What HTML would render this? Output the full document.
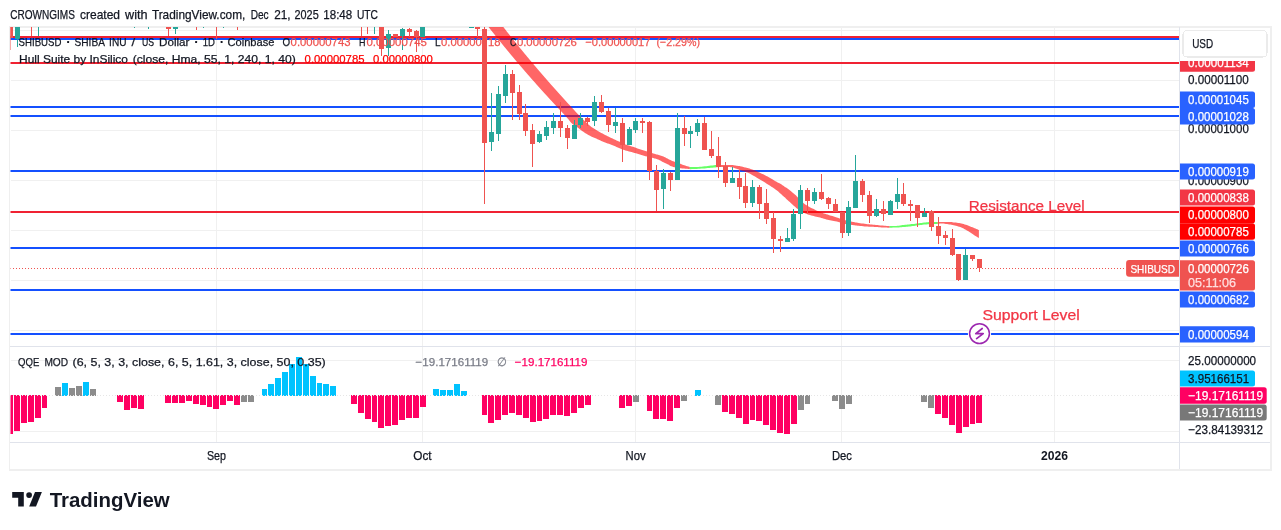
<!DOCTYPE html><html><head><meta charset="utf-8"><style>html,body{margin:0;padding:0;background:#fff;width:1281px;height:530px;overflow:hidden}svg{display:block;will-change:transform;-webkit-font-smoothing:antialiased}text{font-family:"Liberation Sans",sans-serif}</style></head><body><svg width="1281" height="530" viewBox="0 0 1281 530" font-family="Liberation Sans, sans-serif" shape-rendering="crispEdges">
<rect width="1281" height="530" fill="#ffffff"/>
<text x="10.2" y="18.8" font-size="12.4" fill="#131722" text-anchor="start" font-weight="normal" textLength="64.7" lengthAdjust="spacingAndGlyphs" stroke="#131722" stroke-width="0.25">CROWNGIMS</text><text x="80.0" y="18.8" font-size="12.4" fill="#131722" text-anchor="start" font-weight="normal" textLength="40.0" lengthAdjust="spacingAndGlyphs" stroke="#131722" stroke-width="0.25">created</text><text x="125.0" y="18.8" font-size="12.4" fill="#131722" text-anchor="start" font-weight="normal" textLength="22.5" lengthAdjust="spacingAndGlyphs" stroke="#131722" stroke-width="0.25">with</text><text x="151.9" y="18.8" font-size="12.4" fill="#131722" text-anchor="start" font-weight="normal" textLength="93.4" lengthAdjust="spacingAndGlyphs" stroke="#131722" stroke-width="0.25">TradingView.com,</text><text x="250.7" y="18.8" font-size="12.4" fill="#131722" text-anchor="start" font-weight="normal" textLength="18.0" lengthAdjust="spacingAndGlyphs" stroke="#131722" stroke-width="0.25">Dec</text><text x="274.2" y="18.8" font-size="12.4" fill="#131722" text-anchor="start" font-weight="normal" textLength="16.4" lengthAdjust="spacingAndGlyphs" stroke="#131722" stroke-width="0.25">21,</text><text x="294.5" y="18.8" font-size="12.4" fill="#131722" text-anchor="start" font-weight="normal" textLength="24.2" lengthAdjust="spacingAndGlyphs" stroke="#131722" stroke-width="0.25">2025</text><text x="323.3" y="18.8" font-size="12.4" fill="#131722" text-anchor="start" font-weight="normal" textLength="28.9" lengthAdjust="spacingAndGlyphs" stroke="#131722" stroke-width="0.25">18:48</text><text x="356.9" y="18.8" font-size="12.4" fill="#131722" text-anchor="start" font-weight="normal" textLength="21.1" lengthAdjust="spacingAndGlyphs" stroke="#131722" stroke-width="0.25">UTC</text>
<rect x="9" y="26" width="1262" height="1.6" fill="#efefef"/>
<rect x="9" y="26" width="1" height="445" fill="#efefef"/>
<rect x="1270" y="26" width="1.5" height="445" fill="#efefef"/>
<rect x="9" y="469" width="1262.5" height="1.6" fill="#efefef"/>
<defs><clipPath id="pp"><rect x="10.5" y="27" width="1169" height="319"/></clipPath><clipPath id="ip"><rect x="10.5" y="347" width="1169" height="95"/></clipPath></defs>
<g stroke="#f0f0f0" stroke-width="1"><line x1="10.5" y1="30.5" x2="1179" y2="30.5"/><line x1="10.5" y1="80.5" x2="1179" y2="80.5"/><line x1="10.5" y1="130.5" x2="1179" y2="130.5"/><line x1="10.5" y1="180.5" x2="1179" y2="180.5"/><line x1="10.5" y1="230.5" x2="1179" y2="230.5"/><line x1="10.5" y1="280.5" x2="1179" y2="280.5"/><line x1="10.5" y1="330.5" x2="1179" y2="330.5"/><line x1="216.5" y1="27" x2="216.5" y2="442"/><line x1="422.5" y1="27" x2="422.5" y2="442"/><line x1="635.5" y1="27" x2="635.5" y2="442"/><line x1="841.5" y1="27" x2="841.5" y2="442"/><line x1="1054.5" y1="27" x2="1054.5" y2="442"/><line x1="10.5" y1="360.5" x2="1179" y2="360.5"/><line x1="10.5" y1="431.5" x2="1179" y2="431.5"/></g>
<rect x="10" y="346" width="1260" height="1" fill="#e0e3eb"/>
<rect x="10" y="442" width="1260" height="1" fill="#e0e3eb"/>
<rect x="1179" y="27" width="1" height="442" fill="#e0e3eb"/>
<g clip-path="url(#pp)">
<line x1="10" y1="268.5" x2="1125" y2="268.5" stroke="#ef5350" stroke-width="1" stroke-dasharray="1,2"/>
<rect x="10" y="36" width="1169" height="2" fill="#f02232"/>
<rect x="10" y="38" width="1169" height="2" fill="#1450ff"/>
<rect x="10" y="62" width="1169" height="2" fill="#f02232"/>
<rect x="10" y="106" width="1169" height="2" fill="#1450ff"/>
<rect x="10" y="115" width="1169" height="2" fill="#1450ff"/>
<rect x="10" y="170" width="1169" height="2" fill="#1450ff"/>
<rect x="10" y="211" width="1169" height="2" fill="#f02232"/>
<rect x="10" y="247" width="1169" height="2" fill="#1450ff"/>
<rect x="10" y="289" width="1169" height="2" fill="#1450ff"/>
<rect x="10" y="333" width="1169" height="2" fill="#1450ff"/>
<g shape-rendering="auto" fill-opacity="0.6">
<polygon points="493.4,14.0 493.9,14.7 494.6,15.6 495.4,16.6 496.2,17.8 497.1,18.9 497.9,20.0 498.7,21.0 499.5,22.0 500.2,23.0 501.0,24.0 501.8,25.0 502.5,26.0 503.3,27.0 504.1,28.0 504.9,29.0 505.7,30.0 506.4,31.0 507.2,32.0 508.0,33.0 508.8,34.0 509.6,35.0 510.4,36.0 511.2,37.0 512.0,38.0 512.8,39.0 513.6,40.0 514.4,41.0 515.2,42.0 516.0,43.0 516.8,44.0 517.6,45.0 518.4,46.0 519.2,47.0 520.0,48.0 520.8,49.0 521.7,50.0 522.5,51.0 523.3,52.0 524.1,53.0 524.9,54.0 525.8,55.0 526.6,56.0 527.4,57.0 528.3,58.0 529.1,59.0 529.9,60.0 530.8,61.0 531.6,62.0 532.4,63.0 533.3,64.0 534.1,65.0 535.0,66.0 535.8,67.0 536.7,68.0 537.5,69.0 538.4,70.0 539.2,71.0 540.1,72.0 541.0,73.0 541.8,74.0 542.7,75.0 543.6,76.0 544.4,77.0 545.3,78.0 546.2,79.0 547.0,80.0 547.9,81.0 548.8,82.0 549.7,83.0 550.5,84.0 551.4,85.0 552.3,86.0 553.2,87.0 554.1,88.0 555.0,89.0 555.9,90.0 556.8,91.0 557.7,92.0 558.6,93.0 559.5,94.0 560.4,95.0 561.3,96.0 562.2,97.0 563.1,98.0 564.0,99.0 564.9,100.0 565.8,101.0 566.7,102.0 567.6,103.0 568.5,104.0 569.5,105.0 570.4,106.0 571.3,107.0 572.2,108.0 573.2,109.0 574.1,110.0 575.0,111.0 575.8,111.9 576.6,112.8 577.5,113.7 578.5,114.8 579.7,116.0 581.2,117.5 582.9,119.2 584.7,121.0 586.6,122.8 588.4,124.4 590.0,125.8 591.4,126.9 592.7,127.8 593.9,128.6 595.1,129.3 596.3,130.0 597.5,130.7 598.8,131.4 600.0,132.2 601.3,132.9 602.6,133.6 603.8,134.2 605.1,134.9 606.4,135.5 607.6,136.2 608.9,136.8 610.1,137.4 611.3,138.0 612.6,138.6 613.9,139.2 615.2,139.8 616.5,140.4 617.8,140.9 619.0,141.5 620.2,142.0 621.3,142.5 622.3,143.0 623.3,143.5 624.3,143.9 625.4,144.4 626.5,144.8 627.7,145.2 629.0,145.6 630.2,146.0 631.6,146.4 633.0,146.8 634.4,147.3 635.9,147.8 637.5,148.4 639.1,148.9 640.7,149.5 642.3,150.1 643.9,150.6 645.5,151.1 647.2,151.6 648.9,152.1 650.5,152.6 652.0,153.0 653.3,153.4 654.4,153.7 655.2,154.0 655.9,154.2 656.6,154.4 657.3,154.6 658.0,154.8 658.8,155.0 659.6,155.2 660.3,155.4 661.1,155.7 661.9,155.9 662.7,156.2 663.5,156.5 664.3,156.9 665.1,157.3 665.9,157.8 666.7,158.2 667.5,158.6 668.3,159.0 669.0,159.4 669.7,159.7 670.5,160.1 671.3,160.5 672.2,160.9 673.3,161.3 674.5,161.7 675.8,162.2 677.1,162.6 678.3,163.0 679.4,163.4 680.3,163.8 681.1,164.1 681.9,164.4 682.6,164.7 683.4,165.0 684.2,165.3 685.2,165.6 686.2,165.9 687.3,166.2 688.3,166.5 689.2,166.7 689.8,166.9 689.8,169.0 689.2,169.0 688.3,168.9 687.3,168.8 686.2,168.8 685.2,168.7 684.2,168.6 683.4,168.5 682.6,168.5 681.9,168.4 681.1,168.3 680.3,168.2 679.4,168.1 678.3,167.9 677.1,167.7 675.8,167.5 674.5,167.2 673.3,166.9 672.2,166.6 671.3,166.3 670.5,165.9 669.7,165.4 669.0,165.0 668.3,164.6 667.5,164.2 666.7,163.8 665.9,163.4 665.1,163.1 664.3,162.7 663.5,162.3 662.7,161.9 661.9,161.5 661.1,161.1 660.3,160.6 659.6,160.2 658.8,159.8 658.0,159.5 657.3,159.2 656.6,159.0 655.9,158.8 655.2,158.6 654.4,158.4 653.3,158.1 652.0,157.8 650.5,157.4 648.9,157.0 647.2,156.6 645.5,156.2 643.9,155.8 642.3,155.3 640.7,154.8 639.1,154.3 637.5,153.8 635.9,153.3 634.4,152.9 633.0,152.5 631.6,152.1 630.2,151.8 629.0,151.5 627.7,151.1 626.5,150.8 625.4,150.5 624.3,150.1 623.3,149.8 622.3,149.4 621.3,149.0 620.2,148.6 619.0,148.1 617.8,147.5 616.5,146.9 615.2,146.3 613.9,145.7 612.6,145.2 611.3,144.7 610.1,144.3 608.9,143.8 607.6,143.4 606.4,143.0 605.1,142.5 603.8,142.0 602.6,141.4 601.3,140.9 600.0,140.3 598.8,139.8 597.5,139.2 596.2,138.6 594.9,138.1 593.6,137.5 592.4,136.9 591.2,136.4 590.0,135.8 588.9,135.2 587.9,134.7 586.9,134.1 585.9,133.5 585.0,132.9 584.0,132.3 583.0,131.6 582.1,130.9 581.2,130.2 580.2,129.5 579.3,128.7 578.3,128.0 577.3,127.3 576.2,126.6 575.2,126.0 574.1,125.2 573.1,124.4 572.0,123.5 570.9,122.4 569.9,121.2 568.8,119.8 567.7,118.5 566.6,117.2 565.6,116.0 564.6,114.9 563.7,113.9 562.7,112.9 561.8,111.9 560.9,111.0 559.9,110.0 559.0,109.0 558.1,108.0 557.1,107.0 556.2,106.0 555.3,105.0 554.3,104.0 553.4,103.0 552.5,102.0 551.6,101.0 550.6,100.0 549.7,99.0 548.8,98.0 547.9,97.0 547.0,96.0 546.1,95.0 545.1,94.0 544.2,93.0 543.3,92.0 542.4,91.0 541.5,90.0 540.6,89.0 539.7,88.0 538.8,87.0 537.9,86.0 537.0,85.0 536.1,84.0 535.3,83.0 534.4,82.0 533.5,81.0 532.6,80.0 531.7,79.0 530.8,78.0 530.0,77.0 529.1,76.0 528.2,75.0 527.3,74.0 526.5,73.0 525.6,72.0 524.7,71.0 523.9,70.0 523.0,69.0 522.2,68.0 521.3,67.0 520.4,66.0 519.6,65.0 518.7,64.0 517.9,63.0 517.0,62.0 516.2,61.0 515.3,60.0 514.5,59.0 513.7,58.0 512.8,57.0 512.0,56.0 511.1,55.0 510.3,54.0 509.5,53.0 508.7,52.0 507.8,51.0 507.0,50.0 506.2,49.0 505.4,48.0 504.5,47.0 503.7,46.0 502.9,45.0 502.1,44.0 501.3,43.0 500.5,42.0 499.7,41.0 498.9,40.0 498.0,39.0 497.2,38.0 496.4,37.0 495.6,36.0 494.9,35.0 494.1,34.0 493.3,33.0 492.5,32.0 491.7,31.0 490.9,30.0 490.1,29.0 489.3,28.0 488.6,27.0 487.8,26.0 487.0,25.0 486.2,24.0 485.4,23.0 484.7,22.0 483.9,21.0 483.1,20.0 482.3,18.9 481.4,17.8 480.6,16.6 479.8,15.6 479.1,14.7 478.6,14.0" fill="#ff0000"/>
<polygon points="689.8,167.1 690.7,167.1 692.0,167.1 693.5,167.1 695.1,167.0 696.7,167.0 698.3,166.9 699.8,166.8 701.4,166.7 703.0,166.5 704.6,166.3 706.2,166.2 707.7,166.0 709.3,165.8 710.9,165.6 712.5,165.4 714.0,165.2 715.3,165.0 716.2,164.9 716.2,167.3 715.3,167.4 714.0,167.5 712.5,167.7 710.9,167.8 709.3,168.0 707.7,168.1 706.2,168.2 704.6,168.4 703.0,168.5 701.4,168.6 699.8,168.7 698.3,168.8 696.7,168.9 695.1,169.0 693.5,169.0 692.0,169.1 690.7,169.2 689.8,169.2" fill="#00ff00"/>
<polygon points="716.2,164.9 716.7,164.9 717.4,164.9 718.2,165.0 719.2,165.0 720.2,165.0 721.4,165.0 722.8,165.0 724.4,165.0 726.2,164.9 727.9,164.9 729.5,164.9 730.9,164.9 732.0,165.0 732.8,165.1 733.6,165.2 734.2,165.3 734.9,165.5 735.6,165.6 736.4,165.7 737.2,165.8 738.0,165.9 738.7,166.0 739.5,166.1 740.3,166.2 741.1,166.4 741.9,166.6 742.6,166.8 743.4,167.0 744.2,167.2 745.0,167.4 745.8,167.6 746.5,167.8 747.3,168.0 748.1,168.1 748.9,168.4 749.7,168.6 750.5,168.9 751.3,169.2 752.2,169.5 753.0,169.8 754.0,170.2 755.0,170.6 756.1,171.1 757.3,171.6 758.6,172.2 759.9,172.8 761.2,173.4 762.5,174.0 763.8,174.6 765.0,175.3 766.3,175.9 767.6,176.6 768.8,177.3 770.1,178.0 771.4,178.7 772.8,179.6 774.2,180.4 775.5,181.2 776.6,181.8 777.6,182.4 778.3,182.8 778.7,183.0 779.0,183.1 779.2,183.2 779.5,183.3 780.0,183.6 780.7,184.0 781.6,184.6 782.5,185.2 783.4,185.8 784.3,186.4 785.0,186.9 785.5,187.2 785.8,187.4 786.1,187.5 786.4,187.7 786.8,188.0 787.5,188.5 788.5,189.3 789.8,190.3 791.3,191.5 792.7,192.7 794.0,193.8 795.1,194.7 795.8,195.3 796.3,195.8 796.6,196.2 797.0,196.6 797.4,197.0 798.1,197.7 799.0,198.6 800.1,199.7 801.2,200.9 802.4,202.1 803.7,203.2 804.9,204.2 806.1,205.1 807.4,205.8 808.6,206.5 809.9,207.2 811.2,207.9 812.5,208.5 813.8,209.1 815.0,209.8 816.3,210.4 817.6,210.9 818.8,211.5 820.1,212.0 821.4,212.5 822.6,212.9 823.9,213.4 825.1,213.8 826.3,214.2 827.6,214.6 828.8,215.0 830.0,215.4 831.2,215.8 832.5,216.1 833.8,216.6 835.2,217.0 836.8,217.5 838.5,218.1 840.2,218.7 842.0,219.3 843.7,219.8 845.2,220.3 846.5,220.6 847.7,220.9 848.9,221.1 849.9,221.3 851.0,221.5 852.0,221.7 853.0,221.9 853.8,222.1 854.7,222.3 855.6,222.4 856.5,222.6 857.6,222.8 858.8,223.0 860.2,223.2 861.7,223.4 863.2,223.6 864.6,223.8 866.1,224.0 867.5,224.2 868.9,224.3 870.4,224.4 871.8,224.5 873.2,224.7 874.6,224.8 876.0,224.9 877.4,225.1 878.8,225.2 880.2,225.4 881.5,225.5 882.8,225.6 884.1,225.7 885.4,225.8 886.7,225.9 887.9,226.0 888.9,226.0 889.6,226.1 889.6,227.7 888.9,227.7 887.9,227.7 886.7,227.6 885.4,227.6 884.1,227.6 882.8,227.5 881.5,227.4 880.2,227.3 878.8,227.2 877.4,227.1 876.0,227.0 874.6,226.9 873.2,226.8 871.8,226.8 870.4,226.7 868.9,226.7 867.5,226.6 866.1,226.5 864.6,226.4 863.2,226.3 861.7,226.1 860.2,226.0 858.8,225.8 857.6,225.7 856.5,225.6 855.6,225.4 854.7,225.3 853.8,225.2 853.0,225.0 852.0,224.9 851.0,224.8 849.9,224.7 848.9,224.6 847.7,224.4 846.5,224.3 845.2,224.0 843.7,223.6 842.0,223.2 840.2,222.6 838.5,222.1 836.8,221.6 835.2,221.2 833.8,220.9 832.5,220.7 831.2,220.5 830.0,220.3 828.8,220.1 827.6,219.8 826.3,219.5 825.1,219.1 823.9,218.7 822.6,218.3 821.4,218.0 820.1,217.6 818.8,217.3 817.6,217.0 816.3,216.7 815.0,216.4 813.8,216.1 812.5,215.8 811.2,215.4 809.9,215.1 808.6,214.7 807.4,214.3 806.1,213.8 804.9,213.3 803.7,212.7 802.4,212.0 801.2,211.2 800.1,210.5 799.0,209.8 798.1,209.2 797.4,208.8 797.0,208.4 796.6,208.2 796.3,207.9 795.8,207.4 795.1,206.8 794.0,205.9 792.7,204.7 791.3,203.4 789.8,202.1 788.5,200.9 787.5,200.0 786.8,199.4 786.4,198.9 786.1,198.7 785.8,198.4 785.5,198.1 785.0,197.6 784.3,197.0 783.4,196.2 782.5,195.4 781.6,194.6 780.7,193.8 780.0,193.2 779.5,192.7 779.2,192.4 779.0,192.2 778.7,191.9 778.3,191.5 777.6,191.0 776.6,190.3 775.5,189.5 774.2,188.6 772.8,187.6 771.4,186.7 770.1,185.8 768.8,185.0 767.6,184.2 766.3,183.4 765.0,182.6 763.8,181.8 762.5,181.0 761.2,180.2 759.9,179.5 758.6,178.7 757.3,177.9 756.1,177.2 755.0,176.6 754.0,176.0 753.0,175.5 752.2,175.0 751.3,174.5 750.5,174.0 749.7,173.6 748.9,173.2 748.1,172.8 747.3,172.5 746.5,172.2 745.8,171.9 745.0,171.6 744.2,171.3 743.4,171.1 742.6,170.9 741.9,170.7 741.1,170.4 740.3,170.2 739.5,169.9 738.7,169.6 738.0,169.3 737.2,169.0 736.4,168.7 735.6,168.4 734.9,168.2 734.2,167.9 733.6,167.7 732.8,167.5 732.0,167.3 730.9,167.2 729.5,167.1 727.9,167.0 726.2,167.0 724.4,167.0 722.8,167.0 721.4,167.0 720.2,167.0 719.2,167.1 718.2,167.1 717.4,167.2 716.7,167.3 716.2,167.3" fill="#ff0000"/>
<polygon points="889.6,226.1 890.5,226.1 891.7,226.0 893.1,226.0 894.7,226.0 896.2,225.9 897.6,225.8 898.9,225.7 900.1,225.5 901.4,225.3 902.6,225.1 903.9,225.0 905.1,224.8 906.4,224.7 907.6,224.5 908.9,224.4 910.2,224.3 911.4,224.1 912.7,224.0 914.0,223.9 915.2,223.7 916.5,223.6 917.7,223.4 918.9,223.3 920.2,223.1 921.5,222.9 922.7,222.8 924.0,222.6 925.3,222.4 926.5,222.3 927.8,222.2 929.1,222.1 930.5,222.1 931.9,222.0 933.2,222.0 934.4,222.0 935.3,222.0 936.0,222.0 936.5,222.0 936.9,222.0 937.2,222.0 937.4,222.0 937.6,222.0 937.6,223.9 937.4,223.9 937.2,223.9 936.9,223.9 936.5,223.9 936.0,223.9 935.3,223.9 934.4,223.9 933.2,224.0 931.9,224.1 930.5,224.1 929.1,224.2 927.8,224.3 926.5,224.4 925.3,224.5 924.0,224.6 922.7,224.7 921.5,224.9 920.2,225.0 918.9,225.2 917.7,225.3 916.5,225.5 915.2,225.7 914.0,225.9 912.7,226.1 911.4,226.3 910.2,226.4 908.9,226.5 907.6,226.7 906.4,226.8 905.1,226.9 903.9,227.0 902.6,227.1 901.4,227.2 900.1,227.3 898.9,227.4 897.6,227.5 896.2,227.6 894.7,227.6 893.1,227.6 891.7,227.7 890.5,227.7 889.6,227.7" fill="#00ff00"/>
<polygon points="937.6,222.0 938.0,222.0 938.5,222.0 939.2,221.9 939.9,221.9 940.7,221.9 941.6,221.9 942.5,221.9 943.6,221.9 944.7,221.9 945.9,221.9 947.1,221.9 948.2,221.9 949.3,222.0 950.4,222.0 951.5,222.1 952.6,222.2 953.7,222.4 954.8,222.5 955.9,222.6 957.0,222.8 958.1,222.9 959.2,223.1 960.3,223.3 961.4,223.5 962.5,223.8 963.6,224.1 964.7,224.4 965.8,224.7 966.9,225.1 968.0,225.5 969.1,225.9 970.3,226.4 971.4,226.9 972.6,227.3 973.6,227.8 974.6,228.2 975.5,228.6 976.4,229.0 977.2,229.3 977.9,229.6 978.5,229.9 978.9,230.1 978.9,238.1 978.5,237.8 977.9,237.5 977.2,237.0 976.4,236.5 975.5,236.0 974.6,235.4 973.6,234.8 972.6,234.1 971.4,233.3 970.3,232.5 969.1,231.8 968.0,231.1 966.9,230.4 965.8,229.8 964.7,229.2 963.6,228.6 962.5,228.0 961.4,227.5 960.3,227.1 959.2,226.7 958.1,226.4 957.0,226.1 955.9,225.8 954.8,225.5 953.7,225.2 952.6,225.0 951.5,224.8 950.4,224.6 949.3,224.4 948.2,224.2 947.1,224.0 945.9,223.9 944.7,223.7 943.6,223.6 942.5,223.5 941.6,223.5 940.7,223.5 939.9,223.6 939.2,223.7 938.5,223.8 938.0,223.8 937.6,223.9" fill="#ff0000"/>
</g>
<rect x="10" y="20.0" width="1" height="29.6" fill="#ef5350"/>
<rect x="8" y="20.0" width="5" height="18.4" fill="#ef5350"/>
<rect x="17" y="20.0" width="1" height="26.5" fill="#26a69a"/>
<rect x="15" y="20.0" width="5" height="19.3" fill="#26a69a"/>
<rect x="31" y="20.0" width="1" height="16.0" fill="#ef5350"/>
<rect x="29" y="20.0" width="5" height="2.0" fill="#ef5350"/>
<rect x="38" y="20.0" width="1" height="15.6" fill="#26a69a"/>
<rect x="36" y="20.0" width="5" height="2.0" fill="#26a69a"/>
<rect x="134" y="20.0" width="1" height="7.9" fill="#26a69a"/>
<rect x="132" y="20.0" width="5" height="2.0" fill="#26a69a"/>
<rect x="148" y="20.0" width="1" height="8.5" fill="#26a69a"/>
<rect x="146" y="20.0" width="5" height="2.0" fill="#26a69a"/>
<rect x="168" y="20.0" width="1" height="16.2" fill="#ef5350"/>
<rect x="166" y="20.0" width="5" height="8.5" fill="#ef5350"/>
<rect x="175" y="20.0" width="1" height="13.8" fill="#26a69a"/>
<rect x="173" y="20.0" width="5" height="8.5" fill="#26a69a"/>
<rect x="196" y="20.0" width="1" height="9.8" fill="#ef5350"/>
<rect x="194" y="20.0" width="5" height="2.0" fill="#ef5350"/>
<rect x="203" y="20.0" width="1" height="7.9" fill="#26a69a"/>
<rect x="201" y="20.0" width="5" height="2.0" fill="#26a69a"/>
<rect x="216" y="20.0" width="1" height="18.5" fill="#ef5350"/>
<rect x="214" y="20.0" width="5" height="2.0" fill="#ef5350"/>
<rect x="223" y="20.0" width="1" height="7.9" fill="#26a69a"/>
<rect x="221" y="20.0" width="5" height="2.0" fill="#26a69a"/>
<rect x="237" y="20.0" width="1" height="9.5" fill="#ef5350"/>
<rect x="235" y="20.0" width="5" height="2.0" fill="#ef5350"/>
<rect x="361" y="20.0" width="1" height="16.2" fill="#ef5350"/>
<rect x="359" y="20.0" width="5" height="2.0" fill="#ef5350"/>
<rect x="367" y="20.0" width="1" height="14.3" fill="#ef5350"/>
<rect x="365" y="20.0" width="5" height="2.0" fill="#ef5350"/>
<rect x="374" y="20.0" width="1" height="14.3" fill="#26a69a"/>
<rect x="372" y="20.0" width="5" height="2.0" fill="#26a69a"/>
<rect x="381" y="20.0" width="1" height="36.0" fill="#ef5350"/>
<rect x="379" y="20.0" width="5" height="28.8" fill="#ef5350"/>
<rect x="388" y="30.0" width="1" height="26.0" fill="#26a69a"/>
<rect x="386" y="33.8" width="5" height="14.1" fill="#26a69a"/>
<rect x="395" y="33.8" width="1" height="3.3" fill="#ef5350"/>
<rect x="393" y="33.8" width="5" height="3.3" fill="#ef5350"/>
<rect x="402" y="27.6" width="1" height="22.2" fill="#26a69a"/>
<rect x="400" y="28.9" width="5" height="7.3" fill="#26a69a"/>
<rect x="409" y="27.6" width="1" height="9.5" fill="#ef5350"/>
<rect x="407" y="29.2" width="5" height="2.8" fill="#ef5350"/>
<rect x="416" y="30.1" width="1" height="21.8" fill="#ef5350"/>
<rect x="414" y="31.0" width="5" height="6.1" fill="#ef5350"/>
<rect x="422" y="20.0" width="1" height="17.1" fill="#26a69a"/>
<rect x="420" y="20.0" width="5" height="17.1" fill="#26a69a"/>
<rect x="471" y="20.0" width="1" height="8.0" fill="#26a69a"/>
<rect x="469" y="20.0" width="5" height="8.0" fill="#26a69a"/>
<rect x="477" y="20.0" width="1" height="16.8" fill="#ef5350"/>
<rect x="475" y="27.2" width="5" height="1.7" fill="#ef5350"/>
<rect x="484" y="20.0" width="1" height="184.2" fill="#ef5350"/>
<rect x="482" y="29.2" width="5" height="113.5" fill="#ef5350"/>
<rect x="491" y="92.7" width="1" height="58.5" fill="#26a69a"/>
<rect x="489" y="132.0" width="5" height="9.8" fill="#26a69a"/>
<rect x="498" y="85.8" width="1" height="55.0" fill="#26a69a"/>
<rect x="496" y="94.0" width="5" height="39.7" fill="#26a69a"/>
<rect x="505" y="64.8" width="1" height="37.7" fill="#26a69a"/>
<rect x="503" y="73.9" width="5" height="21.7" fill="#26a69a"/>
<rect x="512" y="69.7" width="1" height="50.0" fill="#ef5350"/>
<rect x="510" y="73.9" width="5" height="18.8" fill="#ef5350"/>
<rect x="519" y="84.8" width="1" height="34.9" fill="#ef5350"/>
<rect x="517" y="92.2" width="5" height="21.7" fill="#ef5350"/>
<rect x="525" y="104.0" width="1" height="31.8" fill="#ef5350"/>
<rect x="523" y="113.0" width="5" height="17.8" fill="#ef5350"/>
<rect x="532" y="124.2" width="1" height="42.8" fill="#ef5350"/>
<rect x="530" y="130.0" width="5" height="13.7" fill="#ef5350"/>
<rect x="539" y="131.0" width="1" height="12.0" fill="#26a69a"/>
<rect x="537" y="134.2" width="5" height="8.2" fill="#26a69a"/>
<rect x="546" y="121.0" width="1" height="19.0" fill="#26a69a"/>
<rect x="544" y="126.9" width="5" height="8.7" fill="#26a69a"/>
<rect x="553" y="113.0" width="1" height="20.7" fill="#26a69a"/>
<rect x="551" y="121.0" width="5" height="6.6" fill="#26a69a"/>
<rect x="560" y="102.2" width="1" height="34.3" fill="#ef5350"/>
<rect x="558" y="121.0" width="5" height="6.6" fill="#ef5350"/>
<rect x="567" y="125.0" width="1" height="24.3" fill="#ef5350"/>
<rect x="565" y="128.2" width="5" height="9.3" fill="#ef5350"/>
<rect x="574" y="120.0" width="1" height="18.8" fill="#26a69a"/>
<rect x="572" y="125.0" width="5" height="13.6" fill="#26a69a"/>
<rect x="580" y="113.3" width="1" height="14.2" fill="#26a69a"/>
<rect x="578" y="118.0" width="5" height="7.0" fill="#26a69a"/>
<rect x="587" y="116.9" width="1" height="8.7" fill="#ef5350"/>
<rect x="585" y="118.4" width="5" height="3.4" fill="#ef5350"/>
<rect x="594" y="95.8" width="1" height="30.2" fill="#26a69a"/>
<rect x="592" y="102.0" width="5" height="18.7" fill="#26a69a"/>
<rect x="601" y="94.8" width="1" height="17.9" fill="#ef5350"/>
<rect x="599" y="102.0" width="5" height="10.0" fill="#ef5350"/>
<rect x="608" y="108.0" width="1" height="23.6" fill="#ef5350"/>
<rect x="606" y="110.8" width="5" height="14.2" fill="#ef5350"/>
<rect x="615" y="107.5" width="1" height="25.0" fill="#26a69a"/>
<rect x="613" y="122.0" width="5" height="4.0" fill="#26a69a"/>
<rect x="622" y="118.0" width="1" height="43.8" fill="#ef5350"/>
<rect x="620" y="122.7" width="5" height="22.1" fill="#ef5350"/>
<rect x="629" y="127.0" width="1" height="17.8" fill="#26a69a"/>
<rect x="627" y="128.8" width="5" height="16.0" fill="#26a69a"/>
<rect x="635" y="118.0" width="1" height="14.5" fill="#26a69a"/>
<rect x="633" y="121.2" width="5" height="8.5" fill="#26a69a"/>
<rect x="642" y="117.5" width="1" height="15.1" fill="#ef5350"/>
<rect x="640" y="120.8" width="5" height="1.7" fill="#ef5350"/>
<rect x="649" y="121.0" width="1" height="58.8" fill="#ef5350"/>
<rect x="647" y="121.9" width="5" height="49.4" fill="#ef5350"/>
<rect x="656" y="165.0" width="1" height="46.4" fill="#ef5350"/>
<rect x="654" y="170.9" width="5" height="18.9" fill="#ef5350"/>
<rect x="663" y="169.1" width="1" height="39.7" fill="#26a69a"/>
<rect x="661" y="173.1" width="5" height="15.8" fill="#26a69a"/>
<rect x="670" y="172.0" width="1" height="19.0" fill="#ef5350"/>
<rect x="668" y="173.1" width="5" height="6.6" fill="#ef5350"/>
<rect x="677" y="112.8" width="1" height="67.0" fill="#26a69a"/>
<rect x="675" y="128.0" width="5" height="51.8" fill="#26a69a"/>
<rect x="684" y="116.0" width="1" height="29.8" fill="#ef5350"/>
<rect x="682" y="128.3" width="5" height="5.3" fill="#ef5350"/>
<rect x="690" y="126.0" width="1" height="21.7" fill="#26a69a"/>
<rect x="688" y="131.3" width="5" height="2.3" fill="#26a69a"/>
<rect x="697" y="118.5" width="1" height="17.0" fill="#26a69a"/>
<rect x="695" y="123.2" width="5" height="8.5" fill="#26a69a"/>
<rect x="704" y="116.6" width="1" height="33.0" fill="#ef5350"/>
<rect x="702" y="122.8" width="5" height="26.8" fill="#ef5350"/>
<rect x="711" y="130.8" width="1" height="26.7" fill="#ef5350"/>
<rect x="709" y="149.2" width="5" height="6.6" fill="#ef5350"/>
<rect x="718" y="137.4" width="1" height="40.6" fill="#ef5350"/>
<rect x="716" y="156.2" width="5" height="10.4" fill="#ef5350"/>
<rect x="725" y="161.9" width="1" height="25.5" fill="#ef5350"/>
<rect x="723" y="165.7" width="5" height="16.9" fill="#ef5350"/>
<rect x="732" y="166.6" width="1" height="16.0" fill="#26a69a"/>
<rect x="730" y="178.3" width="5" height="4.3" fill="#26a69a"/>
<rect x="739" y="169.8" width="1" height="28.9" fill="#ef5350"/>
<rect x="737" y="178.0" width="5" height="8.8" fill="#ef5350"/>
<rect x="745" y="172.6" width="1" height="34.9" fill="#ef5350"/>
<rect x="743" y="185.8" width="5" height="16.7" fill="#ef5350"/>
<rect x="752" y="179.8" width="1" height="26.8" fill="#26a69a"/>
<rect x="750" y="186.8" width="5" height="15.7" fill="#26a69a"/>
<rect x="759" y="185.0" width="1" height="33.9" fill="#ef5350"/>
<rect x="757" y="186.8" width="5" height="17.0" fill="#ef5350"/>
<rect x="766" y="188.7" width="1" height="35.1" fill="#ef5350"/>
<rect x="764" y="203.2" width="5" height="15.6" fill="#ef5350"/>
<rect x="773" y="211.6" width="1" height="41.0" fill="#ef5350"/>
<rect x="771" y="218.2" width="5" height="20.6" fill="#ef5350"/>
<rect x="780" y="236.0" width="1" height="15.7" fill="#ef5350"/>
<rect x="778" y="239.3" width="5" height="1.5" fill="#ef5350"/>
<rect x="787" y="228.1" width="1" height="13.7" fill="#26a69a"/>
<rect x="785" y="238.0" width="5" height="3.8" fill="#26a69a"/>
<rect x="793" y="209.0" width="1" height="31.8" fill="#26a69a"/>
<rect x="791" y="214.0" width="5" height="24.8" fill="#26a69a"/>
<rect x="800" y="185.0" width="1" height="43.8" fill="#26a69a"/>
<rect x="798" y="189.6" width="5" height="24.8" fill="#26a69a"/>
<rect x="807" y="187.7" width="1" height="26.5" fill="#ef5350"/>
<rect x="805" y="189.6" width="5" height="11.7" fill="#ef5350"/>
<rect x="814" y="187.7" width="1" height="16.1" fill="#26a69a"/>
<rect x="812" y="191.9" width="5" height="9.4" fill="#26a69a"/>
<rect x="821" y="173.6" width="1" height="26.4" fill="#ef5350"/>
<rect x="819" y="191.9" width="5" height="6.8" fill="#ef5350"/>
<rect x="828" y="196.8" width="1" height="11.7" fill="#ef5350"/>
<rect x="826" y="198.0" width="5" height="6.3" fill="#ef5350"/>
<rect x="835" y="199.0" width="1" height="13.3" fill="#ef5350"/>
<rect x="833" y="204.2" width="5" height="8.1" fill="#ef5350"/>
<rect x="842" y="212.3" width="1" height="25.4" fill="#ef5350"/>
<rect x="840" y="212.3" width="5" height="20.7" fill="#ef5350"/>
<rect x="848" y="201.0" width="1" height="34.8" fill="#26a69a"/>
<rect x="846" y="207.2" width="5" height="25.8" fill="#26a69a"/>
<rect x="855" y="154.7" width="1" height="52.8" fill="#26a69a"/>
<rect x="853" y="181.0" width="5" height="26.5" fill="#26a69a"/>
<rect x="862" y="179.2" width="1" height="22.7" fill="#ef5350"/>
<rect x="860" y="181.0" width="5" height="14.3" fill="#ef5350"/>
<rect x="869" y="191.0" width="1" height="31.6" fill="#ef5350"/>
<rect x="867" y="195.0" width="5" height="21.0" fill="#ef5350"/>
<rect x="876" y="199.0" width="1" height="18.0" fill="#26a69a"/>
<rect x="874" y="208.9" width="5" height="7.1" fill="#26a69a"/>
<rect x="883" y="201.0" width="1" height="19.8" fill="#ef5350"/>
<rect x="881" y="209.4" width="5" height="4.8" fill="#ef5350"/>
<rect x="890" y="200.0" width="1" height="15.0" fill="#26a69a"/>
<rect x="888" y="200.6" width="5" height="14.4" fill="#26a69a"/>
<rect x="897" y="178.0" width="1" height="30.5" fill="#26a69a"/>
<rect x="895" y="194.3" width="5" height="7.2" fill="#26a69a"/>
<rect x="903" y="183.0" width="1" height="22.7" fill="#ef5350"/>
<rect x="901" y="194.3" width="5" height="9.5" fill="#ef5350"/>
<rect x="910" y="200.0" width="1" height="20.8" fill="#ef5350"/>
<rect x="908" y="204.2" width="5" height="1.5" fill="#ef5350"/>
<rect x="917" y="205.3" width="1" height="21.3" fill="#ef5350"/>
<rect x="915" y="205.3" width="5" height="12.2" fill="#ef5350"/>
<rect x="924" y="208.0" width="1" height="8.5" fill="#26a69a"/>
<rect x="922" y="212.7" width="5" height="3.8" fill="#26a69a"/>
<rect x="931" y="209.8" width="1" height="20.8" fill="#ef5350"/>
<rect x="929" y="211.0" width="5" height="15.8" fill="#ef5350"/>
<rect x="938" y="217.4" width="1" height="26.4" fill="#ef5350"/>
<rect x="936" y="226.2" width="5" height="9.5" fill="#ef5350"/>
<rect x="945" y="231.0" width="1" height="13.7" fill="#ef5350"/>
<rect x="943" y="235.3" width="5" height="2.2" fill="#ef5350"/>
<rect x="952" y="228.7" width="1" height="27.7" fill="#ef5350"/>
<rect x="950" y="238.0" width="5" height="16.5" fill="#ef5350"/>
<rect x="958" y="254.0" width="1" height="26.6" fill="#ef5350"/>
<rect x="956" y="254.2" width="5" height="26.0" fill="#ef5350"/>
<rect x="965" y="248.5" width="1" height="31.7" fill="#26a69a"/>
<rect x="963" y="255.0" width="5" height="25.2" fill="#26a69a"/>
<rect x="972" y="255.0" width="1" height="5.8" fill="#ef5350"/>
<rect x="970" y="255.0" width="5" height="4.4" fill="#ef5350"/>
<rect x="979" y="258.9" width="1" height="13.1" fill="#ef5350"/>
<rect x="977" y="258.9" width="5" height="8.8" fill="#ef5350"/>
</g>
<text x="968.7" y="210.9" font-size="14.0" fill="#f23645" text-anchor="start" font-weight="normal" textLength="116.0" lengthAdjust="spacingAndGlyphs" stroke="#f23645" stroke-width="0.25">Resistance Level</text>
<text x="982.4" y="319.7" font-size="14.0" fill="#f23645" text-anchor="start" font-weight="normal" textLength="97.3" lengthAdjust="spacingAndGlyphs" stroke="#f23645" stroke-width="0.25">Support Level</text>
<circle cx="979.5" cy="333.6" r="11.6" fill="#ffffff" shape-rendering="auto"/>
<circle cx="979.5" cy="333.6" r="9.9" fill="#ffffff" stroke="#9c27b0" stroke-width="1.5" shape-rendering="auto"/>
<path d="M982.2,328.5 L975.8,333.6 L983.2,333.6 L976.6,338.6" fill="none" stroke="#9c27b0" stroke-width="1.7" stroke-linejoin="round" stroke-linecap="round" shape-rendering="auto"/>
<text x="18.6" y="45.8" font-size="11.8" fill="#131722" text-anchor="start" font-weight="normal" textLength="42.8" lengthAdjust="spacingAndGlyphs" stroke="#131722" stroke-width="0.25">SHIBUSD</text><text x="74.5" y="45.8" font-size="11.8" fill="#131722" text-anchor="start" font-weight="normal" textLength="30.4" lengthAdjust="spacingAndGlyphs" stroke="#131722" stroke-width="0.25">SHIBA</text><text x="109.1" y="45.8" font-size="11.8" fill="#131722" text-anchor="start" font-weight="normal" textLength="17.4" lengthAdjust="spacingAndGlyphs" stroke="#131722" stroke-width="0.25">INU</text><text x="131.6" y="45.8" font-size="11.8" fill="#131722" text-anchor="start" font-weight="normal" textLength="3.6" lengthAdjust="spacingAndGlyphs" stroke="#131722" stroke-width="0.25">/</text><text x="141.9" y="45.8" font-size="11.8" fill="#131722" text-anchor="start" font-weight="normal" textLength="12.1" lengthAdjust="spacingAndGlyphs" stroke="#131722" stroke-width="0.25">US</text><text x="159.0" y="45.8" font-size="11.8" fill="#131722" text-anchor="start" font-weight="normal" textLength="30.4" lengthAdjust="spacingAndGlyphs" stroke="#131722" stroke-width="0.25">Dollar</text><text x="202.8" y="45.8" font-size="11.8" fill="#131722" text-anchor="start" font-weight="normal" textLength="12.2" lengthAdjust="spacingAndGlyphs" stroke="#131722" stroke-width="0.25">1D</text><text x="227.5" y="45.8" font-size="11.8" fill="#131722" text-anchor="start" font-weight="normal" textLength="46.9" lengthAdjust="spacingAndGlyphs" stroke="#131722" stroke-width="0.25">Coinbase</text><text x="282.5" y="45.8" font-size="11.8" fill="#131722" text-anchor="start" font-weight="normal" textLength="7.6" lengthAdjust="spacingAndGlyphs" stroke="#131722" stroke-width="0.25">O</text><text x="290.6" y="45.8" font-size="11.8" fill="#ef5350" text-anchor="start" font-weight="normal" textLength="59.9" lengthAdjust="spacingAndGlyphs" stroke="#ef5350" stroke-width="0.25">0.00000743</text><text x="359.0" y="45.8" font-size="11.8" fill="#131722" text-anchor="start" font-weight="normal" textLength="6.5" lengthAdjust="spacingAndGlyphs" stroke="#131722" stroke-width="0.25">H</text><text x="366.4" y="45.8" font-size="11.8" fill="#ef5350" text-anchor="start" font-weight="normal" textLength="60.5" lengthAdjust="spacingAndGlyphs" stroke="#ef5350" stroke-width="0.25">0.00000745</text><text x="435.0" y="45.8" font-size="11.8" fill="#131722" text-anchor="start" font-weight="normal" textLength="5.6" lengthAdjust="spacingAndGlyphs" stroke="#131722" stroke-width="0.25">L</text><text x="441.0" y="45.8" font-size="11.8" fill="#ef5350" text-anchor="start" font-weight="normal" textLength="59.6" lengthAdjust="spacingAndGlyphs" stroke="#ef5350" stroke-width="0.25">0.00000718</text><text x="510.0" y="45.8" font-size="11.8" fill="#131722" text-anchor="start" font-weight="normal" textLength="6.3" lengthAdjust="spacingAndGlyphs" stroke="#131722" stroke-width="0.25">C</text><text x="516.9" y="45.8" font-size="11.8" fill="#ef5350" text-anchor="start" font-weight="normal" textLength="60.0" lengthAdjust="spacingAndGlyphs" stroke="#ef5350" stroke-width="0.25">0.00000726</text><text x="585.4" y="45.8" font-size="11.8" fill="#ef5350" text-anchor="start" font-weight="normal" textLength="65.0" lengthAdjust="spacingAndGlyphs" stroke="#ef5350" stroke-width="0.25">−0.00000017</text><text x="656.4" y="45.8" font-size="11.8" fill="#ef5350" text-anchor="start" font-weight="normal" textLength="43.7" lengthAdjust="spacingAndGlyphs" stroke="#ef5350" stroke-width="0.25">(−2.29%)</text>
<rect x="67.1" y="41" width="2" height="2" rx="0.6" fill="#131722" shape-rendering="auto"/>
<rect x="195.1" y="41" width="2" height="2" rx="0.6" fill="#131722" shape-rendering="auto"/>
<rect x="220.6" y="41" width="2" height="2" rx="0.6" fill="#131722" shape-rendering="auto"/>
<text x="19.1" y="62.5" font-size="11.8" fill="#131722" text-anchor="start" font-weight="normal" textLength="108.9" lengthAdjust="spacingAndGlyphs" stroke="#131722" stroke-width="0.25">Hull Suite by InSilico</text><text x="132.7" y="62.5" font-size="11.8" fill="#131722" text-anchor="start" font-weight="normal" textLength="163.1" lengthAdjust="spacingAndGlyphs" stroke="#131722" stroke-width="0.25">(close, Hma, 55, 1, 240, 1, 40)</text><text x="304.6" y="62.5" font-size="11.8" fill="#ff0000" text-anchor="start" font-weight="normal" textLength="59.9" lengthAdjust="spacingAndGlyphs" stroke="#ff0000" stroke-width="0.25">0.00000785</text><text x="373.0" y="62.5" font-size="11.8" fill="#ff0000" text-anchor="start" font-weight="normal" textLength="59.9" lengthAdjust="spacingAndGlyphs" stroke="#ff0000" stroke-width="0.25">0.00000800</text>
<g clip-path="url(#ip)">
<rect x="7" y="395.0" width="6" height="38.9" fill="#ff0062"/>
<rect x="14" y="395.0" width="6" height="35.8" fill="#ff0062"/>
<rect x="21" y="395.0" width="6" height="27.9" fill="#ff0062"/>
<rect x="28" y="395.0" width="6" height="26.9" fill="#ff0062"/>
<rect x="35" y="395.0" width="6" height="22.9" fill="#ff0062"/>
<rect x="42" y="395.0" width="5" height="12.9" fill="#ff0062"/>
<rect x="55" y="387.0" width="6" height="9.0" fill="#8c8c8c"/>
<rect x="62" y="383.0" width="6" height="13.0" fill="#00c3ff"/>
<rect x="69" y="387.9" width="6" height="8.1" fill="#8c8c8c"/>
<rect x="76" y="386.0" width="6" height="10.0" fill="#8c8c8c"/>
<rect x="83" y="382.1" width="6" height="13.9" fill="#00c3ff"/>
<rect x="90" y="389.1" width="6" height="6.9" fill="#8c8c8c"/>
<rect x="117" y="395.0" width="6" height="6.7" fill="#ff0062"/>
<rect x="124" y="395.0" width="6" height="14.9" fill="#ff0062"/>
<rect x="131" y="395.0" width="6" height="12.9" fill="#ff0062"/>
<rect x="138" y="395.0" width="6" height="13.8" fill="#ff0062"/>
<rect x="165" y="395.0" width="6" height="7.9" fill="#ff0062"/>
<rect x="172" y="395.0" width="6" height="7.9" fill="#ff0062"/>
<rect x="179" y="395.0" width="6" height="7.9" fill="#ff0062"/>
<rect x="186" y="395.0" width="6" height="5.6" fill="#ff0062"/>
<rect x="193" y="395.0" width="6" height="8.9" fill="#ff0062"/>
<rect x="200" y="395.0" width="6" height="9.9" fill="#ff0062"/>
<rect x="207" y="395.0" width="5" height="12.0" fill="#ff0062"/>
<rect x="213" y="395.0" width="6" height="13.8" fill="#ff0062"/>
<rect x="220" y="395.0" width="6" height="9.9" fill="#ff0062"/>
<rect x="227" y="395.0" width="6" height="5.5" fill="#ff0062"/>
<rect x="234" y="395.0" width="6" height="9.9" fill="#ff0062"/>
<rect x="241" y="395.0" width="6" height="6.5" fill="#8c8c8c"/>
<rect x="248" y="395.0" width="6" height="6.5" fill="#8c8c8c"/>
<rect x="262" y="389.0" width="5" height="7.0" fill="#00c3ff"/>
<rect x="268" y="384.0" width="6" height="12.0" fill="#00c3ff"/>
<rect x="275" y="378.1" width="6" height="17.9" fill="#00c3ff"/>
<rect x="282" y="371.9" width="6" height="24.1" fill="#00c3ff"/>
<rect x="289" y="364.0" width="6" height="32.0" fill="#00c3ff"/>
<rect x="296" y="357.0" width="6" height="39.0" fill="#00c3ff"/>
<rect x="303" y="364.0" width="6" height="32.0" fill="#00c3ff"/>
<rect x="310" y="375.9" width="6" height="20.1" fill="#00c3ff"/>
<rect x="317" y="383.0" width="5" height="13.0" fill="#00c3ff"/>
<rect x="323" y="384.0" width="6" height="12.0" fill="#00c3ff"/>
<rect x="330" y="386.0" width="6" height="10.0" fill="#00c3ff"/>
<rect x="351" y="395.0" width="6" height="8.9" fill="#ff0062"/>
<rect x="358" y="395.0" width="6" height="17.9" fill="#ff0062"/>
<rect x="365" y="395.0" width="6" height="23.9" fill="#ff0062"/>
<rect x="372" y="395.0" width="5" height="26.7" fill="#ff0062"/>
<rect x="378" y="395.0" width="6" height="32.9" fill="#ff0062"/>
<rect x="385" y="395.0" width="6" height="30.9" fill="#ff0062"/>
<rect x="392" y="395.0" width="6" height="29.8" fill="#ff0062"/>
<rect x="399" y="395.0" width="6" height="24.9" fill="#ff0062"/>
<rect x="406" y="395.0" width="6" height="22.8" fill="#ff0062"/>
<rect x="413" y="395.0" width="6" height="22.8" fill="#ff0062"/>
<rect x="420" y="395.0" width="6" height="11.9" fill="#ff0062"/>
<rect x="433" y="389.1" width="6" height="6.9" fill="#00c3ff"/>
<rect x="440" y="390.0" width="6" height="6.0" fill="#00c3ff"/>
<rect x="447" y="390.0" width="6" height="6.0" fill="#00c3ff"/>
<rect x="454" y="384.0" width="6" height="12.0" fill="#00c3ff"/>
<rect x="461" y="391.1" width="6" height="4.9" fill="#00c3ff"/>
<rect x="482" y="395.0" width="5" height="19.8" fill="#ff0062"/>
<rect x="488" y="395.0" width="6" height="27.8" fill="#ff0062"/>
<rect x="495" y="395.0" width="6" height="24.7" fill="#ff0062"/>
<rect x="502" y="395.0" width="6" height="19.8" fill="#ff0062"/>
<rect x="509" y="395.0" width="6" height="17.8" fill="#ff0062"/>
<rect x="516" y="395.0" width="6" height="19.8" fill="#ff0062"/>
<rect x="523" y="395.0" width="6" height="22.9" fill="#ff0062"/>
<rect x="530" y="395.0" width="6" height="26.8" fill="#ff0062"/>
<rect x="537" y="395.0" width="5" height="26.0" fill="#ff0062"/>
<rect x="543" y="395.0" width="6" height="23.8" fill="#ff0062"/>
<rect x="550" y="395.0" width="6" height="19.8" fill="#ff0062"/>
<rect x="557" y="395.0" width="6" height="19.8" fill="#ff0062"/>
<rect x="564" y="395.0" width="6" height="20.8" fill="#ff0062"/>
<rect x="571" y="395.0" width="6" height="17.8" fill="#ff0062"/>
<rect x="578" y="395.0" width="6" height="12.9" fill="#ff0062"/>
<rect x="585" y="395.0" width="6" height="9.8" fill="#ff0062"/>
<rect x="619" y="395.0" width="6" height="12.9" fill="#ff0062"/>
<rect x="626" y="395.0" width="6" height="10.9" fill="#ff0062"/>
<rect x="633" y="395.0" width="6" height="6.7" fill="#8c8c8c"/>
<rect x="647" y="395.0" width="5" height="15.8" fill="#ff0062"/>
<rect x="653" y="395.0" width="6" height="23.8" fill="#ff0062"/>
<rect x="660" y="395.0" width="6" height="23.8" fill="#ff0062"/>
<rect x="667" y="395.0" width="6" height="25.7" fill="#ff0062"/>
<rect x="674" y="395.0" width="6" height="12.9" fill="#ff0062"/>
<rect x="681" y="395.0" width="6" height="5.7" fill="#8c8c8c"/>
<rect x="695" y="390.0" width="6" height="6.0" fill="#00c3ff"/>
<rect x="715" y="395.0" width="6" height="9.7" fill="#8c8c8c"/>
<rect x="722" y="395.0" width="6" height="16.8" fill="#ff0062"/>
<rect x="729" y="395.0" width="6" height="19.0" fill="#ff0062"/>
<rect x="736" y="395.0" width="6" height="22.9" fill="#ff0062"/>
<rect x="743" y="395.0" width="6" height="28.8" fill="#ff0062"/>
<rect x="750" y="395.0" width="5" height="24.7" fill="#ff0062"/>
<rect x="756" y="395.0" width="6" height="25.7" fill="#ff0062"/>
<rect x="763" y="395.0" width="6" height="29.9" fill="#ff0062"/>
<rect x="770" y="395.0" width="6" height="34.8" fill="#ff0062"/>
<rect x="777" y="395.0" width="6" height="37.6" fill="#ff0062"/>
<rect x="784" y="395.0" width="6" height="38.8" fill="#ff0062"/>
<rect x="791" y="395.0" width="6" height="28.8" fill="#ff0062"/>
<rect x="798" y="395.0" width="6" height="14.7" fill="#8c8c8c"/>
<rect x="805" y="395.0" width="5" height="8.8" fill="#8c8c8c"/>
<rect x="832" y="395.0" width="6" height="5.7" fill="#8c8c8c"/>
<rect x="839" y="395.0" width="6" height="13.7" fill="#8c8c8c"/>
<rect x="846" y="395.0" width="6" height="8.8" fill="#8c8c8c"/>
<rect x="921" y="395.0" width="6" height="6.7" fill="#8c8c8c"/>
<rect x="928" y="395.0" width="6" height="12.9" fill="#8c8c8c"/>
<rect x="935" y="395.0" width="6" height="18.9" fill="#ff0062"/>
<rect x="942" y="395.0" width="6" height="22.9" fill="#ff0062"/>
<rect x="949" y="395.0" width="6" height="29.9" fill="#ff0062"/>
<rect x="956" y="395.0" width="6" height="37.6" fill="#ff0062"/>
<rect x="963" y="395.0" width="6" height="31.7" fill="#ff0062"/>
<rect x="970" y="395.0" width="5" height="28.8" fill="#ff0062"/>
<rect x="976" y="395.0" width="6" height="27.8" fill="#ff0062"/>
<line x1="10" y1="395.5" x2="1179" y2="395.5" stroke="#e6e6e6" stroke-width="1" stroke-dasharray="1,2"/>
</g>
<text x="18.1" y="365.6" font-size="11.8" fill="#131722" text-anchor="start" font-weight="normal" textLength="21.3" lengthAdjust="spacingAndGlyphs" stroke="#131722" stroke-width="0.25">QQE</text><text x="44.4" y="365.6" font-size="11.8" fill="#131722" text-anchor="start" font-weight="normal" textLength="23.7" lengthAdjust="spacingAndGlyphs" stroke="#131722" stroke-width="0.25">MOD</text><text x="72.5" y="365.6" font-size="11.8" fill="#131722" text-anchor="start" font-weight="normal" textLength="253.2" lengthAdjust="spacingAndGlyphs" stroke="#131722" stroke-width="0.25">(6, 5, 3, 3, close, 6, 5, 1.61, 3, close, 50, 0.35)</text>
<text x="415.6" y="365.6" font-size="11.8" fill="#787b86" text-anchor="start" font-weight="normal" textLength="72.6" lengthAdjust="spacingAndGlyphs" stroke="#787b86" stroke-width="0.25">−19.17161119</text>
<text x="496.8" y="365.6" font-size="11.8" fill="#787b86" text-anchor="start" font-weight="normal" textLength="9.4" lengthAdjust="spacingAndGlyphs" stroke="#787b86" stroke-width="0.25">∅</text>
<text x="514.8" y="365.6" font-size="11.8" fill="#ff0062" text-anchor="start" font-weight="normal" textLength="72.6" lengthAdjust="spacingAndGlyphs" stroke="#ff0062" stroke-width="0.25">−19.17161119</text>
<g>
<path d="M1180.0,54.5 H1252.5 Q1255.0,54.5 1255.0,57.0 V69.2 Q1255.0,71.7 1252.5,71.7 H1180.0 Z" fill="#f23645" shape-rendering="auto"/><text x="1188.1" y="67.3" font-size="12.4" fill="#ffffff" text-anchor="start" font-weight="normal" textLength="60.7" lengthAdjust="spacingAndGlyphs" stroke="#ffffff" stroke-width="0.25">0.00001134</text>
<text x="1188.1" y="83.9" font-size="12.4" fill="#131722" text-anchor="start" font-weight="normal" textLength="60.7" lengthAdjust="spacingAndGlyphs" stroke="#131722" stroke-width="0.25">0.00001100</text>
<text x="1188.1" y="133.3" font-size="12.4" fill="#131722" text-anchor="start" font-weight="normal" textLength="60.7" lengthAdjust="spacingAndGlyphs" stroke="#131722" stroke-width="0.25">0.00001000</text>
<text x="1188.1" y="185.4" font-size="12.4" fill="#131722" text-anchor="start" font-weight="normal" textLength="60.7" lengthAdjust="spacingAndGlyphs" stroke="#131722" stroke-width="0.25">0.00000900</text>
<path d="M1180.0,91.4 H1252.5 Q1255.0,91.4 1255.0,93.9 V105.5 Q1255.0,108.0 1252.5,108.0 H1180.0 Z" fill="#2962ff" shape-rendering="auto"/><text x="1188.1" y="103.9" font-size="12.4" fill="#ffffff" text-anchor="start" font-weight="normal" textLength="60.7" lengthAdjust="spacingAndGlyphs" stroke="#ffffff" stroke-width="0.25">0.00001045</text>
<path d="M1180.0,108.0 H1252.5 Q1255.0,108.0 1255.0,110.5 V122.1 Q1255.0,124.6 1252.5,124.6 H1180.0 Z" fill="#2962ff" shape-rendering="auto"/><text x="1188.1" y="120.5" font-size="12.4" fill="#ffffff" text-anchor="start" font-weight="normal" textLength="60.7" lengthAdjust="spacingAndGlyphs" stroke="#ffffff" stroke-width="0.25">0.00001028</text>
<path d="M1180.0,163.6 H1252.5 Q1255.0,163.6 1255.0,166.1 V177.1 Q1255.0,179.6 1252.5,179.6 H1180.0 Z" fill="#2962ff" shape-rendering="auto"/><text x="1188.1" y="175.8" font-size="12.4" fill="#ffffff" text-anchor="start" font-weight="normal" textLength="60.7" lengthAdjust="spacingAndGlyphs" stroke="#ffffff" stroke-width="0.25">0.00000919</text>
<path d="M1180.0,189.4 H1252.5 Q1255.0,189.4 1255.0,191.9 V203.0 Q1255.0,205.5 1252.5,205.5 H1180.0 Z" fill="#f23645" shape-rendering="auto"/><text x="1188.1" y="201.6" font-size="12.4" fill="#ffffff" text-anchor="start" font-weight="normal" textLength="60.7" lengthAdjust="spacingAndGlyphs" stroke="#ffffff" stroke-width="0.25">0.00000838</text>
<path d="M1180.0,206.6 H1252.5 Q1255.0,206.6 1255.0,209.1 V220.7 Q1255.0,223.2 1252.5,223.2 H1180.0 Z" fill="#ff0000" shape-rendering="auto"/><text x="1188.1" y="219.1" font-size="12.4" fill="#ffffff" text-anchor="start" font-weight="normal" textLength="60.7" lengthAdjust="spacingAndGlyphs" stroke="#ffffff" stroke-width="0.25">0.00000800</text>
<path d="M1180.0,223.2 H1252.5 Q1255.0,223.2 1255.0,225.7 V237.3 Q1255.0,239.8 1252.5,239.8 H1180.0 Z" fill="#ff0000" shape-rendering="auto"/><text x="1188.1" y="235.7" font-size="12.4" fill="#ffffff" text-anchor="start" font-weight="normal" textLength="60.7" lengthAdjust="spacingAndGlyphs" stroke="#ffffff" stroke-width="0.25">0.00000785</text>
<path d="M1180.0,240.6 H1252.5 Q1255.0,240.6 1255.0,243.1 V253.9 Q1255.0,256.4 1252.5,256.4 H1180.0 Z" fill="#2962ff" shape-rendering="auto"/><text x="1188.1" y="252.7" font-size="12.4" fill="#ffffff" text-anchor="start" font-weight="normal" textLength="60.7" lengthAdjust="spacingAndGlyphs" stroke="#ffffff" stroke-width="0.25">0.00000766</text>
<path d="M1180.0,260.3 H1252.5 Q1255.0,260.3 1255.0,262.8 V288.1 Q1255.0,290.6 1252.5,290.6 H1180.0 Z" fill="#ef5350" shape-rendering="auto"/>
<text x="1188.1" y="272.6" font-size="12.4" fill="#ffffff" text-anchor="start" font-weight="normal" textLength="60.7" lengthAdjust="spacingAndGlyphs" stroke="#ffffff" stroke-width="0.25">0.00000726</text>
<text x="1188.1" y="287.1" font-size="12.4" fill="#ffdede" text-anchor="start" font-weight="normal" textLength="48.0" lengthAdjust="spacingAndGlyphs" stroke="#ffdede" stroke-width="0.25">05:11:06</text>
<path d="M1180.0,291.4 H1252.5 Q1255.0,291.4 1255.0,293.9 V305.1 Q1255.0,307.6 1252.5,307.6 H1180.0 Z" fill="#2962ff" shape-rendering="auto"/><text x="1188.1" y="303.7" font-size="12.4" fill="#ffffff" text-anchor="start" font-weight="normal" textLength="60.7" lengthAdjust="spacingAndGlyphs" stroke="#ffffff" stroke-width="0.25">0.00000682</text>
<path d="M1180.0,326.3 H1252.5 Q1255.0,326.3 1255.0,328.8 V340.0 Q1255.0,342.5 1252.5,342.5 H1180.0 Z" fill="#2962ff" shape-rendering="auto"/><text x="1188.1" y="338.6" font-size="12.4" fill="#ffffff" text-anchor="start" font-weight="normal" textLength="60.7" lengthAdjust="spacingAndGlyphs" stroke="#ffffff" stroke-width="0.25">0.00000594</text>
<rect x="1180" y="28" width="90" height="33" fill="#ffffff"/>
<rect x="1183" y="30.5" width="84" height="26.5" rx="4" fill="#ffffff" stroke="#ebebeb" stroke-width="1.2"/>
<text x="1192.2" y="47.8" font-size="12.0" fill="#131722" text-anchor="start" font-weight="normal" textLength="21.0" lengthAdjust="spacingAndGlyphs" stroke="#131722" stroke-width="0.25">USD</text>
<path d="M1179,260.1 V276.8 H1129.1 Q1126.1,276.8 1126.1,273.8 V263.1 Q1126.1,260.1 1129.1,260.1 Z" fill="#ef5350" shape-rendering="auto"/>
<text x="1130.4" y="273.0" font-size="11.8" fill="#ffffff" text-anchor="start" font-weight="normal" textLength="44.7" lengthAdjust="spacingAndGlyphs" stroke="#ffffff" stroke-width="0.25">SHIBUSD</text>
</g>
<text x="1188.1" y="364.8" font-size="12.4" fill="#131722" text-anchor="start" font-weight="normal" textLength="68.0" lengthAdjust="spacingAndGlyphs" stroke="#131722" stroke-width="0.25">25.00000000</text>
<path d="M1180.0,370.5 H1252.5 Q1255.0,370.5 1255.0,373.0 V384.1 Q1255.0,386.6 1252.5,386.6 H1180.0 Z" fill="#00c3ff" shape-rendering="auto"/>
<text x="1188.1" y="382.8" font-size="12.4" fill="#131722" text-anchor="start" font-weight="normal" textLength="61.0" lengthAdjust="spacingAndGlyphs" stroke="#131722" stroke-width="0.25">3.95166151</text>
<path d="M1180.0,387.3 H1264.2 Q1266.7,387.3 1266.7,389.8 V401.3 Q1266.7,403.8 1264.2,403.8 H1180.0 Z" fill="#ff0062" shape-rendering="auto"/>
<text x="1188.1" y="399.7" font-size="12.4" fill="#ffffff" text-anchor="start" font-weight="normal" textLength="75.0" lengthAdjust="spacingAndGlyphs" stroke="#ffffff" stroke-width="0.25">−19.17161119</text>
<path d="M1180.0,404.5 H1264.2 Q1266.7,404.5 1266.7,407.0 V418.1 Q1266.7,420.6 1264.2,420.6 H1180.0 Z" fill="#787878" shape-rendering="auto"/>
<text x="1188.1" y="416.7" font-size="12.4" fill="#ffffff" text-anchor="start" font-weight="normal" textLength="75.0" lengthAdjust="spacingAndGlyphs" stroke="#ffffff" stroke-width="0.25">−19.17161119</text>
<text x="1188.1" y="434.0" font-size="12.4" fill="#131722" text-anchor="start" font-weight="normal" textLength="75.0" lengthAdjust="spacingAndGlyphs" stroke="#131722" stroke-width="0.25">−23.84139312</text>
<text x="216.4" y="459.9" font-size="12.3" fill="#131722" text-anchor="middle" font-weight="normal" textLength="19.0" lengthAdjust="spacingAndGlyphs" stroke="#131722" stroke-width="0.25">Sep</text>
<text x="422.4" y="459.9" font-size="12.3" fill="#131722" text-anchor="middle" font-weight="normal" textLength="18.3" lengthAdjust="spacingAndGlyphs" stroke="#131722" stroke-width="0.25">Oct</text>
<text x="635.6" y="459.9" font-size="12.3" fill="#131722" text-anchor="middle" font-weight="normal" textLength="20.0" lengthAdjust="spacingAndGlyphs" stroke="#131722" stroke-width="0.25">Nov</text>
<text x="842.0" y="459.9" font-size="12.3" fill="#131722" text-anchor="middle" font-weight="normal" textLength="20.0" lengthAdjust="spacingAndGlyphs" stroke="#131722" stroke-width="0.25">Dec</text>
<text x="1054.4" y="460.2" font-size="12.4" fill="#131722" text-anchor="middle" font-weight="bold" textLength="27.0" lengthAdjust="spacingAndGlyphs">2026</text>
<g fill="#131722" shape-rendering="auto">
<path d="M12.2,492.1 H23.8 V506.6 H18.2 V497.8 H12.2 Z"/>
<circle cx="29.1" cy="495.1" r="2.85"/>
<path d="M35,492.1 H41.9 L36,506.6 H29.2 Z"/>
</g>
<text x="49.7" y="506.7" font-size="19.6" fill="#131722" text-anchor="start" font-weight="bold" textLength="120.0" lengthAdjust="spacingAndGlyphs">TradingView</text>
</svg></body></html>
